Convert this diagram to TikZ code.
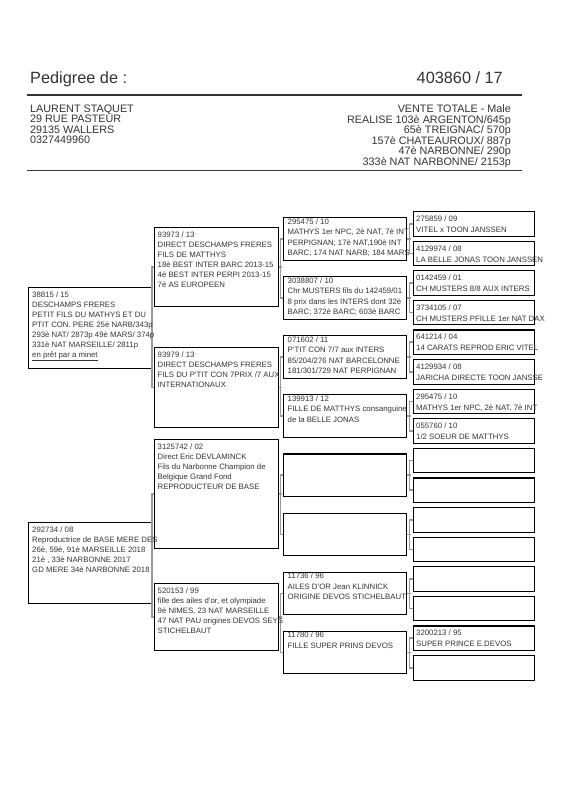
\documentclass[tikz,border=0pt]{standalone}
\usepackage{fontspec}
\setmainfont{Liberation Sans}
\usetikzlibrary{positioning}
\definecolor{pedInk}{HTML}{333333}
\definecolor{pedLink}{HTML}{9a9a9a}
\tikzset{
  title/.style={anchor=base west, inner sep=0pt, text=pedInk,
              font=\fontsize{16.3}{18}\selectfont},
  owner/.style={anchor=north west, inner sep=0pt, align=left, text=pedInk,
              font=\fontsize{10.8}{10.5}\selectfont},
  rule/.style={draw=pedInk, line width=1.2pt},
  gbox/.style={draw=black, line width=1.1pt, anchor=north west, inner sep=0pt},
  gtxt/.style={inner sep=0pt, align=left, text=pedInk,
              font=\fontsize{7.8}{10}\selectfont},
  ctxt/.style={gtxt, font=\fontsize{7.8}{10.5}\selectfont},
  dtxt/.style={gtxt, font=\fontsize{7.8}{11}\selectfont},
  link/.style={draw=pedLink, line width=1.6pt},
}
\begin{document}
\begin{tikzpicture}[x=1pt,y=-1pt]
\useasboundingbox (0,0) rectangle (566,800);
% header
\node[title] (ttl) at (30,84) {Pedigree de :};
\node[title, anchor=base east] (num) at (503,84) {403860 / 17};
\draw[rule] (27,95) -- (522,95);
\node[owner] (own) at (30,104.5) {LAURENT STAQUET\\29 RUE PASTEUR\\29135 WALLERS\\0327449960};
\node[owner, anchor=north east, align=right] (res) at (511,104.5)
  {VENTE TOTALE - Male\\REALISE 103è ARGENTON/645p\\65è TREIGNAC/ 570p\\157è CHATEAUROUX/ 887p\\47è NARBONNE/ 290p\\333è NAT NARBONNE/ 2153p};
\draw[rule] (27,170.5) -- (522,170.5);

% generation 1
\node[gbox, minimum width=123pt, minimum height=81pt] (a0) at (27.5,287) {};
\node[gbox, minimum width=123pt, minimum height=81pt] (a1) at (27.5,522) {};
% generation 2
\node[gbox, minimum width=124pt, minimum height=79pt] (b0) at (154,227) {};
\node[gbox, minimum width=124pt, minimum height=80pt] (b1) at (154,347) {};
\node[gbox, minimum width=124pt, minimum height=109pt] (b2) at (154,439) {};
\node[gbox, minimum width=124pt, minimum height=67pt] (b3) at (154,583) {};
% generation 3
\foreach \k in {0,...,7}
  \node[gbox, minimum width=123pt, minimum height=42.5pt] (c\k) at (283,{217+59.1*\k}) {};
% generation 4
\foreach \i in {0,...,15}
  \node[gbox, minimum width=121pt, minimum height=24.5pt] (d\i) at (412.5,{211+29.6*\i}) {};

% brackets
\foreach \k in {0,...,7}{
  \pgfmathtruncatemacro\p{2*\k}
  \pgfmathtruncatemacro\q{2*\k+1}
  \draw[link] (d\p.west) -- ++(-3,0) |- (d\q.west);
  \draw[link] (c\k.east) -- ++(3.5,0);
}
\foreach \j in {0,...,3}{
  \pgfmathtruncatemacro\p{2*\j}
  \pgfmathtruncatemacro\q{2*\j+1}
  \draw[link] (c\p.west) -- ++(-2.5,0) |- (c\q.west);
  \draw[link] (b\j.east) -- ++(2.5,0);
}
\foreach \m in {0,1}{
  \pgfmathtruncatemacro\p{2*\m}
  \pgfmathtruncatemacro\q{2*\m+1}
  \draw[link] (b\p.west) -- ++(-2,0) |- (b\q.west);
  \draw[link] (a\m.east) -- ++(1.5,0);
}

% texts, generation 1
\node[gtxt, below right=4.6pt and 4.5pt of a0.north west] (a0t)
  {38815 / 15\\DESCHAMPS FRERES\\PETIT FILS DU MATHYS ET DU\\PTIT CON. PERE 25è NARB/343p\\293è NAT/ 2873p 49è MARS/ 374p\\331è NAT MARSEILLE/ 2811p\\\underline{en prêt par a minet}};
\node[gtxt, below right=4.6pt and 4.5pt of a1.north west] (a1t)
  {292734 / 08\\Reproductrice de BASE MERE DES\\26è, 59è, 91è MARSEILLE 2018\\21è , 33è NARBONNE 2017\\GD MERE 34è NARBONNE 2018};
% generation 2
\node[gtxt, below right=4.6pt and 3.5pt of b0.north west] (b0t)
  {93973 / 13\\DIRECT DESCHAMPS FRERES\\FILS DE MATTHYS\\18è BEST INTER BARC 2013-15\\4è BEST INTER PERPI 2013-15\\7è AS EUROPEEN};
\node[gtxt, below right=4.6pt and 3.5pt of b1.north west] (b1t)
  {93979 / 13\\DIRECT DESCHAMPS FRERES\\FILS DU P'TIT CON 7PRIX /7 AUX\\INTERNATIONAUX};
\node[gtxt, below right=4.6pt and 3.5pt of b2.north west] (b2t)
  {3125742 / 02\\Direct Eric DEVLAMINCK\\Fils du Narbonne Champion de\\Belgique Grand Fond\\REPRODUCTEUR DE BASE};
\node[gtxt, below right=4.6pt and 3.5pt of b3.north west] (b3t)
  {520153 / 99\\fille des ailes d'or, et olympiade\\9è NIMES, 23 NAT MARSEILLE\\47 NAT PAU origines DEVOS SEYS\\STICHELBAUT};
% generation 3
\node[ctxt, below right=1.2pt and 4.5pt of c0.north west] (c0t)
  {295475 / 10\\MATHYS 1er NPC, 2è NAT, 7è INT\\PERPIGNAN; 17è NAT,190è INT\\BARC; 174 NAT NARB; 184 MARS};
\node[ctxt, below right=1.2pt and 4.5pt of c1.north west] (c1t)
  {3038807 / 10\\Chr MUSTERS fils du 142459/01\\8 prix dans les INTERS dont 32è\\BARC; 372è BARC; 603è BARC};
\node[ctxt, below right=1.2pt and 4.5pt of c2.north west] (c2t)
  {071602 / 11\\P'TIT CON 7/7 aux INTERS\\85/204/276 NAT BARCELONNE\\181/301/729 NAT PERPIGNAN};
\node[ctxt, below right=1.2pt and 4.5pt of c3.north west] (c3t)
  {139913 / 12\\FILLE DE MATTHYS consanguine\\de la BELLE JONAS};
\node[ctxt, below right=1.2pt and 4.5pt of c6.north west] (c6t)
  {11736 / 96\\AILES D'OR Jean KLINNICK\\ORIGINE DEVOS STICHELBAUT};
\node[ctxt, below right=1.2pt and 4.5pt of c7.north west] (c7t)
  {11780 / 96\\FILLE SUPER PRINS DEVOS};
% generation 4
\node[dtxt, below right=4.6pt and 3.5pt of d0.north west] (d0t) {275859 / 09\\VITEL x TOON JANSSEN};
\node[dtxt, below right=4.6pt and 3.5pt of d1.north west] (d1t) {4129974 / 08\\LA BELLE JONAS TOON JANSSEN};
\node[dtxt, below right=4.6pt and 3.5pt of d2.north west] (d2t) {0142459 / 01\\CH MUSTERS 8/8 AUX INTERS};
\node[dtxt, below right=4.6pt and 3.5pt of d3.north west] (d3t) {3734105 / 07\\CH MUSTERS PFILLE 1er NAT DAX};
\node[dtxt, below right=4.6pt and 3.5pt of d4.north west] (d4t) {641214 / 04\\14 CARATS REPROD ERIC VITEL};
\node[dtxt, below right=4.6pt and 3.5pt of d5.north west] (d5t) {4129934 / 08\\JARICHA DIRECTE TOON JANSSE};
\node[dtxt, below right=4.6pt and 3.5pt of d6.north west] (d6t) {295475 / 10\\MATHYS 1er NPC, 2è NAT, 7è INT};
\node[dtxt, below right=4.6pt and 3.5pt of d7.north west] (d7t) {055760 / 10\\1/2 SOEUR DE MATTHYS};
\node[dtxt, below right=4.6pt and 3.5pt of d14.north west] (d14t) {3200213 / 95\\SUPER PRINCE E.DEVOS};
\end{tikzpicture}
\end{document}
